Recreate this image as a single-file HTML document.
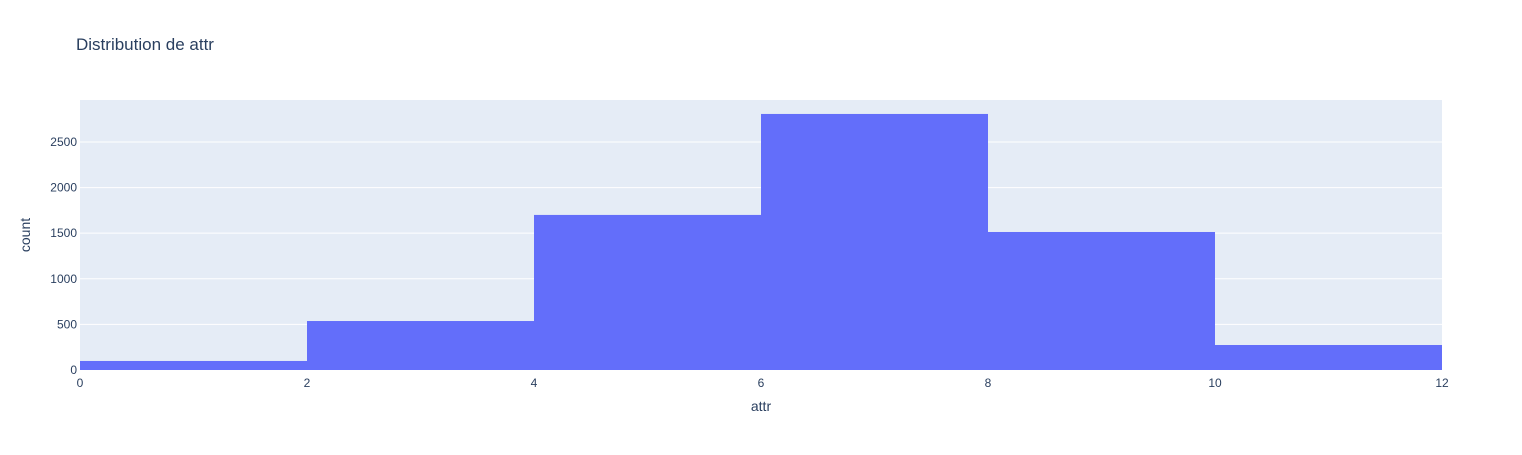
<!DOCTYPE html>
<html><head><meta charset="utf-8"><style>
body{margin:0;background:#fff;font-family:"Liberation Sans",Arial,sans-serif}
text{font-family:"Liberation Sans",Arial,sans-serif}
</style></head><body>
<svg id="c" width="1522" height="450" xmlns="http://www.w3.org/2000/svg">
<text x="76" y="50" font-size="17" fill="#2a3f5f">Distribution de attr</text>
<rect x="80" y="100" width="1362" height="270" fill="#e5ecf6"/>
<g id="grid"></g><g id="bars"></g><g id="axes"></g>
<text x="761" y="411" font-size="14" fill="#2a3f5f" text-anchor="middle">attr</text>
<text transform="translate(30,235) rotate(-90)" font-size="14" fill="#2a3f5f" text-anchor="middle">count</text>
</svg>
<script>
const binStarts=[0,2,4,6,8,10];
const binWidth=2;
const counts=[99,537,1700,2807,1513,274];
const xTicks=[0,2,4,6,8,10,12];
const yTicks=[0,500,1000,1500,2000,2500];
const NS="http://www.w3.org/2000/svg";
const X0=80,X1=1442,Y0=370,Y1=100,xMax=12,yMax=2960;
const sx=v=>X0+(v/xMax)*(X1-X0);
const sy=v=>Y0-(v/yMax)*(Y0-Y1);
function mk(t,a,p){const e=document.createElementNS(NS,t);for(const k in a)e.setAttribute(k,a[k]);p.appendChild(e);return e;}
const g=document.getElementById('grid'),b=document.getElementById('bars'),ax=document.getElementById('axes');
yTicks.forEach(v=>{
 if(v>0){const l=mk('line',{x1:X0,x2:X1,y1:sy(v),y2:sy(v),stroke:'#fff','stroke-width':1},g);
 
 }
 const t=mk('text',{x:X0-3,y:sy(v)+4,'font-size':12,fill:'#2a3f5f','text-anchor':'end'},ax);t.textContent=v;
 
 
});
xTicks.forEach(v=>{
 const t=mk('text',{x:sx(v),y:Y0+17,'font-size':12,fill:'#2a3f5f','text-anchor':'middle'},ax);t.textContent=v;
 
 
});
binStarts.forEach((s,i)=>{
 const r=mk('rect',{x:sx(s),y:sy(counts[i]),width:sx(s+binWidth)-sx(s),height:Y0-sy(counts[i]),fill:'#636efa'},b);
 
 
});
</script>
</body></html>
